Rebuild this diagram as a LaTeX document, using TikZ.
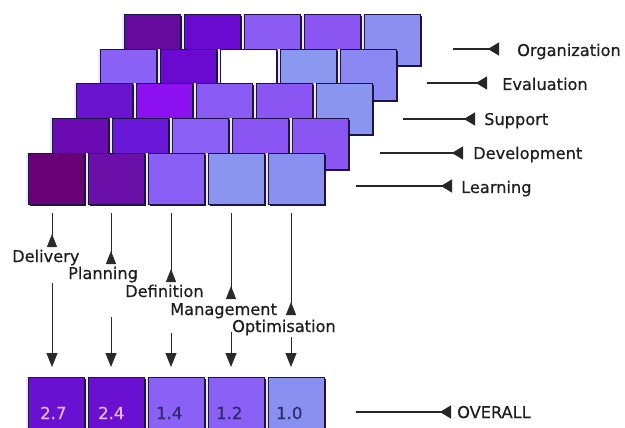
\documentclass[tikz,border=0pt]{standalone}
\usepackage{fontspec}
\setmainfont{DejaVu Sans}
\newfontfamily\lblfont[FakeBold=0.5]{DejaVu Sans}
\usetikzlibrary{arrows.meta,shadows}
\definecolor{lblc}{HTML}{1E1E1E}
\definecolor{linec}{HTML}{2A2A2A}
\definecolor{shadc}{HTML}{1C1448}
\definecolor{edgec}{HTML}{EEE6FA}
\definecolor{numlight}{HTML}{E6B8F6}
\definecolor{numdark}{HTML}{2E2A6E}
\begin{document}
\begin{tikzpicture}[x=1pt,y=-1pt,
  tile/.style={anchor=north west, minimum width=56pt, minimum height=51pt, inner sep=0pt, outer sep=0pt,
    draw=shadc, line width=0.8pt,
    preaction={fill=edgec, draw=none, transform canvas={xshift=-2.2pt}},
    preaction={fill=shadc, draw=none, transform canvas={xshift=1.8pt, yshift=-1.8pt}}},
  lbl/.style={anchor=base west, inner sep=0pt, text=lblc, font=\lblfont\fontsize{16.2}{19}\selectfont},
  num/.style={anchor=base west, inner sep=0pt, font=\lblfont\fontsize{16.5}{19}\selectfont},
  conn/.style={draw=linec, line width=1pt},
  rconn/.style={draw=black!85, line width=1.3pt},
  uptip/.style={-{Triangle[reversed,length=13pt,width=10pt]}},
  downtip/.style={-{Triangle[length=14pt,width=11pt]}},
  lefttip/.style={-{Triangle[reversed,length=11pt,width=13pt]}},
]
\useasboundingbox (0,0) rectangle (625,428);
\clip (0,0) rectangle (625,428);
\fill[white] (0,0) rectangle (625,428);

% rows of tiles, back to front
\foreach \c [count=\i from 0] in {650A9C,6A0AD0,8A5AF2,8A55F2,8A8FF0}
  {\definecolor{tc}{HTML}{\c}\node[tile,fill=tc] (org\i) at ({124+60*\i},14) {};}
\foreach \c [count=\i from 0] in {8A62F5,6A0AD0,FFFFFF,8A98F0,8A88F2}
  {\definecolor{tc}{HTML}{\c}\node[tile,fill=tc] (eva\i) at ({100+60*\i},49) {};}
\foreach \c [count=\i from 0] in {6A14D0,8C10F0,8A5AF5,8A55F2,8A95F0}
  {\definecolor{tc}{HTML}{\c}\node[tile,fill=tc] (sup\i) at ({76+60*\i},83) {};}
\foreach \c [count=\i from 0] in {6A0AB0,6A18D8,8A60F5,8A55F2,8A55F2}
  {\definecolor{tc}{HTML}{\c}\node[tile,fill=tc] (dev\i) at ({52+60*\i},118) {};}
\foreach \c [count=\i from 0] in {6A0075,6A10A8,8A5FF5,8A95F0,8890F0}
  {\definecolor{tc}{HTML}{\c}\node[tile,fill=tc] (lrn\i) at ({28+60*\i},153) {};}
\foreach \c [count=\i from 0] in {6A10D0,6A10D0,8A60F5,8A60F5,8890F0}
  {\definecolor{tc}{HTML}{\c}\node[tile,fill=tc] (ov\i) at ({28+60*\i},377) {};}

% overall values
\node[num,text=numlight] (n0) at (40,419) {2.7};
\node[num,text=numlight] (n1) at (98,419) {2.4};
\node[num,text=numdark]  (n2) at (156,419) {1.4};
\node[num,text=numdark]  (n3) at (216,419) {1.2};
\node[num,text=numdark]  (n4) at (276,419) {1.0};

% right-hand labels
\node[lbl] (lorg) at (517,56) {Organization};
\node[lbl] (leva) at (502,90) {Evaluation};
\node[lbl] (lsup) at (484,125) {Support};
\node[lbl] (ldev) at (473,159) {Development};
\node[lbl] (llrn) at (461,193) {Learning};
\node[lbl] (lovr) at (457,418) {OVERALL};

\coordinate (aorg) at (453,49);  \coordinate (borg) at (499,49);
\coordinate (aeva) at (427,83);  \coordinate (beva) at (487,83);
\coordinate (asup) at (403,119); \coordinate (bsup) at (475,119);
\coordinate (adev) at (380,153); \coordinate (bdev) at (463,153);
\coordinate (alrn) at (356,186); \coordinate (blrn) at (452,186);
\coordinate (aovr) at (356,412); \coordinate (bovr) at (451,412);
\foreach \r in {org,eva,sup,dev,lrn,ovr}
  {\draw[rconn,lefttip] (a\r) -- (b\r);}

% column labels
\node[lbl] (ldel) at (12,262) {Delivery};
\node[lbl] (lpla) at (68,279) {Planning};
\node[lbl] (ldef) at (125,297) {Definition};
\node[lbl] (lman) at (170,315) {Management};
\node[lbl] (lopt) at (232,332) {Optimisation};

% vertical connectors
\foreach \k/\x/\b/\s in {1/52/247/283, 2/111/264/317, 3/171/282/333, 4/231/299/332, 5/291/315/337}{
  \coordinate (ct\k) at (\x,213);
  \coordinate (cb\k) at (\x,\b);
  \coordinate (cs\k) at (\x,\s);
  \coordinate (ce\k) at (\x,367);
  \draw[conn,uptip] (ct\k) -- (cb\k);
  \draw[conn,downtip] (cs\k) -- (ce\k);
}
\end{tikzpicture}
\end{document}
